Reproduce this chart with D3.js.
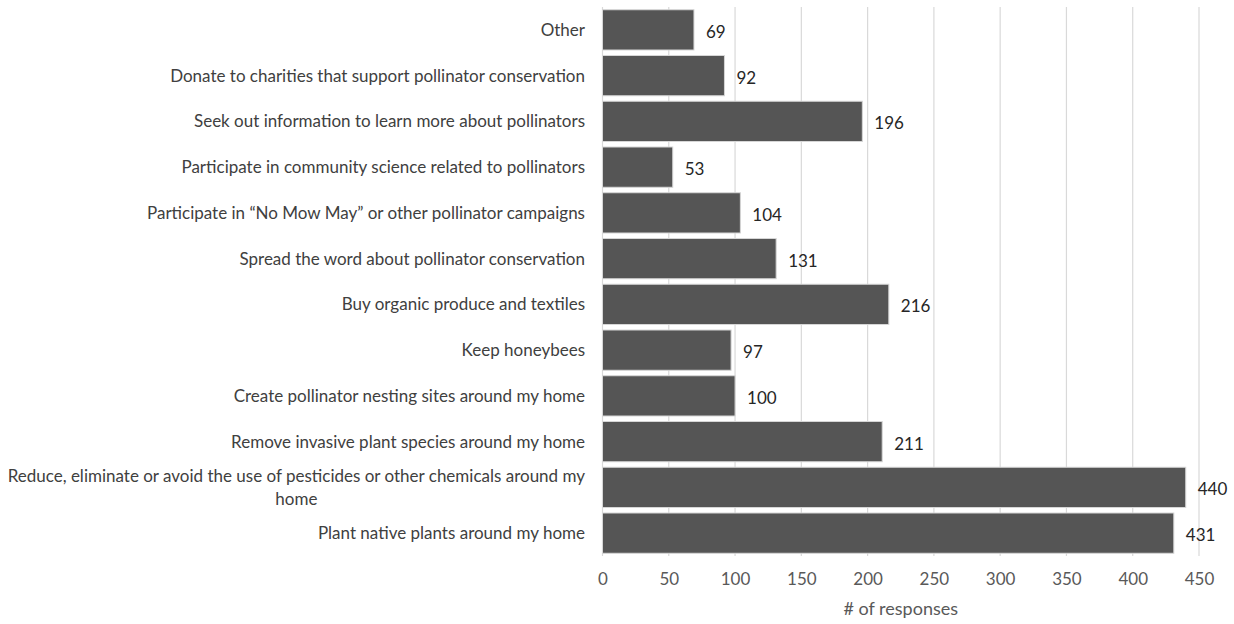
<!DOCTYPE html>
<html>
<head>
<meta charset="utf-8">
<script src="https://cdn.jsdelivr.net/npm/d3@7"></script>
<style>
    body { margin: 0; background: #fff; }
    text { font-family: Lato, "Open Sans", sans-serif; }
</style>
</head>
<body>
<div id="chart"></div>
<script>
// categories, top to bottom as shown
let categories = [
    "Other",
    "Donate to charities that support pollinator conservation",
    "Seek out information to learn more about pollinators",
    "Participate in community science related to pollinators",
    "Participate in \u201CNo Mow May\u201D or other pollinator campaigns",
    "Spread the word about pollinator conservation",
    "Buy organic produce and textiles",
    "Keep honeybees",
    "Create pollinator nesting sites around my home",
    "Remove invasive plant species around my home",
    "Reduce, eliminate or avoid the use of pesticides or other chemicals around my home",
    "Plant native plants around my home"
];
let responses = [69, 92, 196, 53, 104, 131, 216, 97, 100, 211, 440, 431];
let xTicks = [0, 50, 100, 150, 200, 250, 300, 350, 400, 450];
let xTitle = "# of responses";

let data = categories.map((c, i) => ({cat: c, value: responses[i]}));

let width = 1234, height = 624;
let margin = {left: 602.5, right: 35, top: 7, bottom: 68};

let svg = d3.select("#chart").append("svg")
    .attr("width", width)
    .attr("height", height);

let x = d3.scaleLinear()
    .domain([0, 450])
    .range([margin.left, width - margin.right]);

let y = d3.scaleBand()
    .domain(categories)
    .range([margin.top, height - margin.bottom])
    .paddingInner(0.12)
    .paddingOuter(0.06);

// gridlines
svg.append("g")
    .selectAll("line")
    .data(xTicks)
    .join("line")
    .attr("x1", d => x(d))
    .attr("x2", d => x(d))
    .attr("y1", margin.top)
    .attr("y2", height - margin.bottom)
    .attr("stroke", "#d9d9d9")
    .attr("stroke-width", 1.2);

// bars
svg.append("g")
    .selectAll("rect")
    .data(data)
    .join("rect")
    .attr("x", x(0))
    .attr("y", d => y(d.cat))
    .attr("width", d => x(d.value) - x(0))
    .attr("height", y.bandwidth())
    .attr("fill", "#555555")
    .attr("stroke", "#d6d6d6")
    .attr("stroke-width", 1);

// value labels
svg.append("g")
    .selectAll("text")
    .data(data)
    .join("text")
    .attr("x", d => x(d.value) + 12)
    .attr("y", d => y(d.cat) + y.bandwidth() / 2 + 2)
    .attr("dy", "0.35em")
    .attr("font-size", 17)
    .attr("fill", "#262626")
    .text(d => d.value);

// x axis labels
let xAxis = d3.axisBottom(x)
    .tickValues(xTicks)
    .tickSize(0)
    .tickPadding(17);

let gx = svg.append("g")
    .attr("transform", "translate(0," + (height - margin.bottom) + ")")
    .call(xAxis);
gx.select(".domain").remove();
gx.selectAll("text")
    .attr("font-size", 17)
    .attr("fill", "#595959")
    .style("font-family", "Lato, 'Open Sans', sans-serif");

svg.append("text")
    .attr("x", (x(0) + x(450)) / 2)
    .attr("y", 609)
    .attr("dy", "0.35em")
    .attr("text-anchor", "middle")
    .attr("font-size", 18)
    .attr("fill", "#595959")
    .text(xTitle);

// category labels, wrapped when too long
let labelRight = 585;
let maxWidth = 590;
let labels = svg.append("g");

data.forEach(d => {
    let t = labels.append("text")
        .attr("font-size", 17)
        .attr("fill", "#404040");
    let words = d.cat.split(" ");
    let lines = [];
    let line = [];
    let probe = t.append("tspan");
    words.forEach(w => {
        line.push(w);
        probe.text(line.join(" "));
        if (probe.node().getComputedTextLength() > maxWidth && line.length > 1) {
            line.pop();
            lines.push(line.join(" "));
            line = [w];
        }
    });
    lines.push(line.join(" "));
    probe.remove();

    let lh = 23;
    let cy = y(d.cat) + y.bandwidth() / 2 - (lines.length - 1) * lh / 2;
    if (lines.length === 1) {
        t.attr("text-anchor", "end")
            .append("tspan")
            .attr("x", labelRight)
            .attr("y", cy)
            .attr("dy", "0.35em")
            .text(lines[0]);
    } else {
        // measure block width, centre lines in it
        let widths = lines.map(l => {
            let s = t.append("tspan").text(l);
            let w = s.node().getComputedTextLength();
            s.remove();
            return w;
        });
        let blockW = d3.max(widths);
        let cx = labelRight - blockW / 2;
        t.attr("text-anchor", "middle");
        lines.forEach((l, i) => {
            t.append("tspan")
                .attr("x", cx)
                .attr("y", cy + i * lh)
                .attr("dy", "0.35em")
                .text(l);
        });
    }
});
</script>
</body>
</html>
